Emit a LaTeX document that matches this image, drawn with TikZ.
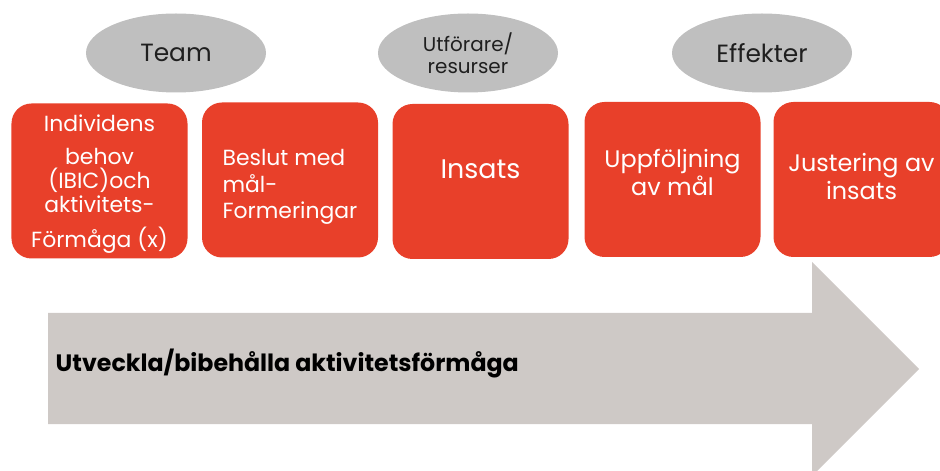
\documentclass[tikz,border=0pt]{standalone}
\usepackage{fontspec}
\setmainfont{Poppins}
\usetikzlibrary{shapes.geometric}
\definecolor{stegrod}{HTML}{E8402A}
\definecolor{aktorgra}{HTML}{BFBFBF}
\definecolor{pilgra}{HTML}{CEC9C6}
\definecolor{textgra}{HTML}{1F1F1F}

\begin{document}
\begin{tikzpicture}[
		x=1bp,
		y=-1bp,
		thick
	]
		\tikzstyle{steg}=[
			rectangle,
			rounded corners=20bp,
			fill=stegrod,
			minimum width=176bp,
			minimum height=155bp,
			inner sep=0pt
		]
		\tikzstyle{stegtext}=[
			text=white,
			inner sep=0pt,
			align=center
		]
		\tikzstyle{aktor}=[
			ellipse,
			fill=aktorgra,
			text=textgra,
			minimum width=180bp,
			minimum height=79bp,
			inner sep=0pt,
			align=center
		]

		\useasboundingbox (0,0) rectangle (940,471);
		% stora pilen
		\fill[pilgra] (48,313) -- (812,313) -- (812,262) -- (919,369) -- (812,476) -- (812,424) -- (48,424) -- cycle;
		\node[anchor=base west, font=\bfseries\fontsize{23.8}{26}\selectfont, text=black] (mal) at (52,372) {Utveckla/bibehålla aktivitetsförmåga};

		% steg
		\node[steg] (behov) at (99.5,181) {};
		\node[stegtext, font=\fontsize{22}{24}\selectfont, yshift=-3bp] (behovtext) at (behov)
			{Individens\\[10bp]behov\\(IBIC)och\\aktivitets-\\[11bp]Förmåga (x)};
		\node[steg] (beslut) at (290,180) {};
		\node[stegtext, align=left, font=\fontsize{22}{26.5}\selectfont, yshift=-7bp] (beslutstext) at (beslut)
			{Beslut med\\mål-\\Formeringar};
		\node[steg] (insats) at (480.5,181.5) {};
		\node[stegtext, font=\fontsize{27}{30}\selectfont, yshift=12bp] (insatstext) at (insats) {Insats};
		\node[steg] (uppfoljning) at (672.5,179.5) {};
		\node[stegtext, font=\fontsize{24}{28}\selectfont, yshift=7bp] (uppfoljningtext) at (uppfoljning)
			{Uppföljning\\av mål};
		\node[steg] (justering) at (861.5,179.5) {};
		\node[stegtext, font=\fontsize{24}{28}\selectfont, yshift=3bp] (justeringtext) at (justering)
			{Justering av\\insats};

		% aktorer
		\node[aktor, font=\fontsize{25}{28}\selectfont] (team) at (176,53) {\raisebox{-3bp}{Team}};
		\node[aktor, font=\fontsize{20}{22}\selectfont] (utforare) at (468,53) {Utförare/\\resurser};
		\node[aktor, font=\fontsize{25}{28}\selectfont] (effekter) at (762,53) {\raisebox{-2bp}{Effekter}};
	\end{tikzpicture}
\end{document}
